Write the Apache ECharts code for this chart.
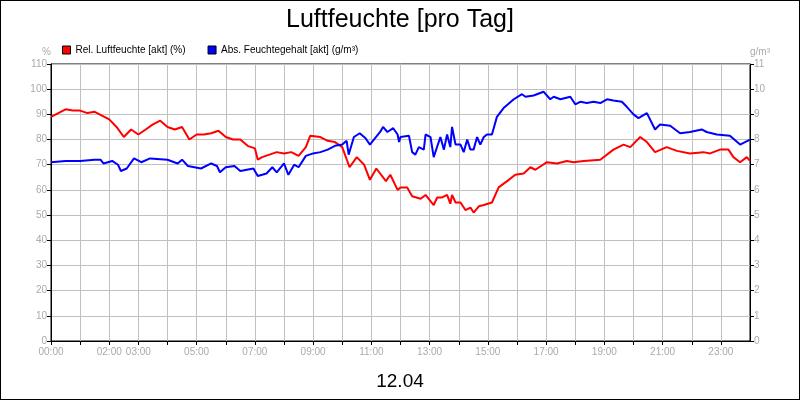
<!DOCTYPE html>
<html><head><meta charset="utf-8">
<script src="https://cdn.jsdelivr.net/npm/echarts@6/dist/echarts.min.js"></script>
<style>html,body{margin:0;padding:0}#c{width:798px;height:398px;border:1px solid #000}</style>
</head><body><div id="c"></div>
<script>
const xLabelHours = [0,2,3,5,7,9,11,13,15,17,19,21,23];
const relHours = [0,0.25,0.5,0.75,1,1.25,1.5,1.75,2,2.25,2.5,2.75,3,3.25,3.5,3.75,4,4.25,4.5,4.75,5,5.25,5.5,5.75,6,6.25,6.5,6.75,7,7.1,7.25,7.5,7.75,8,8.25,8.5,8.75,8.9,9.25,9.5,9.75,10,10.25,10.5,10.75,10.95,11.17,11.5,11.65,11.9,12.0,12.23,12.4,12.69,12.86,13.14,13.26,13.43,13.6,13.71,13.77,13.89,14.06,14.23,14.4,14.51,14.69,14.86,15.14,15.37,15.66,15.94,16.23,16.46,16.63,17.03,17.37,17.71,17.94,18.29,18.86,19.31,19.66,19.89,20.23,20.46,20.74,21.14,21.49,21.94,22.4,22.63,22.97,23.26,23.43,23.66,23.89,24];
const relValues = [89,90.5,92,91.5,91.5,90.5,91,89.5,88,85,81,84,82,84,86,87.5,85,84,85,80,82,82,82.5,83.5,81,80,80,77.5,76.5,72,73,74,75,74.5,75,73.5,77,81.5,81,79.5,79,77,69,73,70,64,68.5,63.5,66,60,61,61,57.5,56.5,58,54,57,57,58,54.5,58,55,55,52,53,51,53.5,54,55,61,63.5,66,66.5,69,68,71,70.5,71.5,71,71.5,72,76,78,77,81,79,75,77,75.5,74.5,75,74.5,76,76,73,71,73,71.5];
const absHours = [0,0.5,1,1.5,1.7,1.8,2.1,2.3,2.4,2.6,2.85,3.1,3.4,4.0,4.35,4.5,4.7,5.15,5.5,5.7,5.8,6.0,6.3,6.5,6.95,7.1,7.4,7.6,7.75,8.0,8.15,8.35,8.5,8.75,9.0,9.25,9.5,9.75,10.0,10.15,10.22,10.4,10.6,10.8,10.95,11.3,11.4,11.55,11.75,11.9,11.95,12.0,12.29,12.4,12.51,12.63,12.8,12.86,13.03,13.14,13.37,13.49,13.6,13.71,13.77,13.89,14.06,14.17,14.29,14.4,14.51,14.63,14.74,14.86,14.97,15.14,15.31,15.54,15.89,16.17,16.29,16.57,16.91,17.14,17.26,17.49,17.83,18.0,18.17,18.4,18.63,18.86,19.09,19.31,19.6,19.77,20.0,20.17,20.46,20.74,20.91,21.26,21.6,21.94,22.34,22.51,22.86,23.31,23.66,24];
const absValues = [7.1,7.15,7.15,7.2,7.2,7.05,7.15,7.0,6.75,6.85,7.25,7.1,7.25,7.2,7.05,7.2,6.95,6.85,7.05,6.95,6.7,6.9,6.95,6.75,6.85,6.55,6.65,6.9,6.7,7.05,6.6,7.0,6.9,7.35,7.45,7.5,7.6,7.75,7.8,7.95,7.4,8.1,8.25,8.05,7.8,8.3,8.5,8.3,8.45,8.2,7.9,8.1,8.15,7.5,7.4,7.7,7.6,8.2,8.1,7.3,8.1,7.6,8.2,7.7,8.5,7.8,7.8,7.5,8.0,7.6,7.6,8.1,7.8,8.1,8.2,8.2,8.9,9.25,9.6,9.8,9.7,9.75,9.9,9.6,9.7,9.6,9.7,9.4,9.5,9.45,9.5,9.45,9.6,9.55,9.5,9.3,9.0,8.85,9.05,8.4,8.6,8.55,8.25,8.3,8.4,8.3,8.2,8.15,7.8,8.0];
const pad = h => (h<10?'0':'')+h+':00';
const gray = '#aaaaaa';
const chart = echarts.init(document.getElementById('c'));
chart.setOption({
  animation:false,
  textStyle:{fontFamily:'Liberation Sans, Arial, sans-serif'},
  title:[{text:'Luftfeuchte [pro Tag]',left:'center',top:2,textStyle:{fontSize:25,fontWeight:'normal',color:'#000'}},
         {text:'12.04',left:'center',top:366,textStyle:{fontSize:19,fontWeight:'normal',color:'#000'}}],
  legend:{left:56,top:39,itemWidth:8,itemHeight:8,itemGap:22,icon:'rect',
    textStyle:{fontSize:10,color:'#000'},
    data:[{name:'Rel. Luftfeuchte [akt] (%)',itemStyle:{color:'#ff0000',borderColor:'#000',borderWidth:1}},
          {name:'Abs. Feuchtegehalt [akt] (g/m³)',itemStyle:{color:'#0000ff',borderColor:'#000',borderWidth:1}}]},
  grid:{left:50,right:49,top:63,bottom:58,show:true,borderColor:'#000',borderWidth:1},
  xAxis:{type:'value',min:0,max:24,interval:1,
    axisLine:{lineStyle:{color:'#000'}},axisTick:{length:4,lineStyle:{color:'#000'}},
    splitLine:{show:true,lineStyle:{color:'#c0c0c0'}},
    axisLabel:{color:gray,fontSize:10,margin:6,showMaxLabel:false,
      formatter:v=>xLabelHours.includes(v)?pad(v):''}},
  yAxis:[{type:'value',min:0,max:110,interval:10,name:'%',nameGap:7,
      nameTextStyle:{color:gray,fontSize:10,align:'right'},
      axisLine:{show:true,lineStyle:{color:'#000'}},axisTick:{show:true,length:4,lineStyle:{color:'#000'}},
      splitLine:{lineStyle:{color:'#c0c0c0'}},axisLabel:{color:gray,fontSize:10,margin:4}},
    {type:'value',min:0,max:11,interval:1,name:'g/m³',nameGap:7,
      nameTextStyle:{color:gray,fontSize:10,align:'left'},
      axisLine:{show:true,lineStyle:{color:'#000'}},axisTick:{show:true,length:4,lineStyle:{color:'#000'}},
      splitLine:{show:false},axisLabel:{color:gray,fontSize:10,margin:4}}],
  series:[
    {name:'Rel. Luftfeuchte [akt] (%)',type:'line',yAxisIndex:0,showSymbol:false,color:'#ff0000',
      lineStyle:{width:2,color:'#ff0000'},data:relHours.map((h,i)=>[h,relValues[i]])},
    {name:'Abs. Feuchtegehalt [akt] (g/m³)',type:'line',yAxisIndex:1,showSymbol:false,color:'#0000ff',
      lineStyle:{width:2,color:'#0000ff'},data:absHours.map((h,i)=>[h,absValues[i]])}
  ]
});
</script></body></html>
